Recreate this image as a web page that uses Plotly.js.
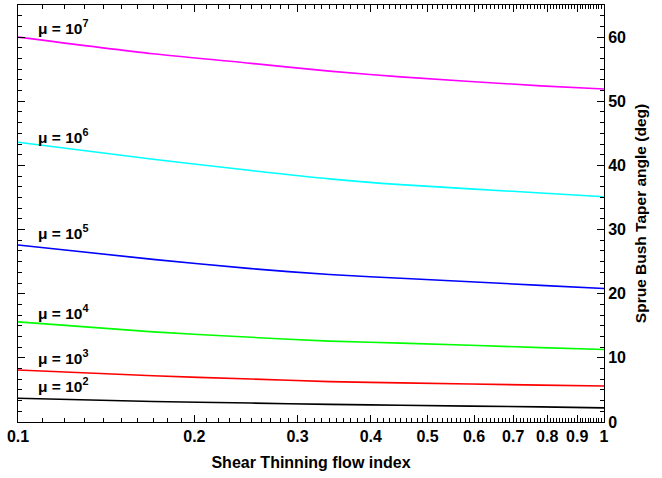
<!DOCTYPE html>
<html>
<head>
<meta charset="utf-8">
<script src="https://cdn.plot.ly/plotly-3.0.1.min.js"></script>
<style>
  html, body { margin: 0; padding: 0; background: #fff; }
  #chart { width: 662px; height: 478px; }
</style>
</head>
<body>
<div id="chart"></div>
<script>
// Data
const flowIndex = [0.1, 0.17, 0.25, 0.34, 0.45, 0.78, 1.0];
const mu1e7 = [60.0, 57.4, 55.9, 54.7, 53.8, 52.4, 51.9];
const mu1e6 = [43.6, 40.95, 39.2, 37.9, 37.0, 35.7, 35.1];
const mu1e5 = [27.6, 25.35, 23.9, 23.0, 22.4, 21.3, 20.8];
const mu1e4 = [15.6, 14.05, 13.2, 12.6, 12.3, 11.6, 11.3];
const mu1e3 = [8.1, 7.2, 6.7, 6.3, 6.1, 5.75, 5.6];
const mu1e2 = [3.7, 3.2, 2.95, 2.75, 2.6, 2.35, 2.2];

const seriesLabels = ['μ = 10<sup>7</sup>', 'μ = 10<sup>6</sup>', 'μ = 10<sup>5</sup>',
                      'μ = 10<sup>4</sup>', 'μ = 10<sup>3</sup>', 'μ = 10<sup>2</sup>'];
const xTickVals = [0.1, 0.2, 0.3, 0.4, 0.5, 0.6, 0.7, 0.8, 0.9, 1];
const xTickText = ['0.1', '0.2', '0.3', '0.4', '0.5', '0.6', '0.7', '0.8', '0.9', '1'];
const yTickVals = [0, 10, 20, 30, 40, 50, 60];

// styles / positions
const colors = ['#ff00ff', '#00ffff', '#0000ff', '#00ff00', '#ff0000', '#000000'];
const labelY = [61.6, 44.6, 29.6, 17.2, 10.1, 5.7];
const labelX = 0.1075;

const allSeries = [mu1e7, mu1e6, mu1e5, mu1e4, mu1e3, mu1e2];

const traces = allSeries.map((ys, i) => ({
  x: flowIndex, y: ys, type: 'scatter', mode: 'lines',
  line: { color: colors[i], width: 1.6, shape: 'spline', smoothing: 0.8 },
  hoverinfo: 'skip', showlegend: false
}));
// hidden copies so the overlay tick axes get drawn
[['x2', 'y'], ['x3', 'y2']].forEach(([xa, ya]) => traces.push({
  x: flowIndex, y: mu1e2, xaxis: xa, yaxis: ya, type: 'scatter', mode: 'lines',
  line: { color: 'rgba(0,0,0,0)', width: 0.1 }, hoverinfo: 'skip', showlegend: false
}));

// minor tick positions: every 0.01 between the majors
const xMinor = [];
for (let k = 11; k < 100; k++) {
  if (k % 10 !== 0) xMinor.push(k / 100);
}

const fontTick = { family: 'Liberation Sans, Arial, sans-serif', size: 16, color: '#000', weight: 'bold' };
const fontTitleX = { family: 'Liberation Sans, Arial, sans-serif', size: 16, color: '#000', weight: 'bold' };
const fontTitleY = { family: 'Liberation Sans, Arial, sans-serif', size: 15.5, color: '#000', weight: 'bold' };
const fontLabel = { family: 'Liberation Sans, Arial, sans-serif', size: 15.5, color: '#000', weight: 'bold' };

const annotations = seriesLabels.map((t, i) => ({
  x: Math.log10(labelX), y: labelY[i], xref: 'x', yref: 'y',
  text: t, showarrow: false, xanchor: 'left', yanchor: 'middle',
  font: fontLabel
}));

const tickCommon = { ticks: 'inside', tickwidth: 1, tickcolor: '#000', showgrid: false, zeroline: false };

const layout = {
  width: 662, height: 478,
  margin: { l: 18, r: 58, t: 5, b: 56 },
  paper_bgcolor: '#fff', plot_bgcolor: '#fff',
  showlegend: false,
  font: fontTick,
  xaxis: Object.assign({}, tickCommon, {
    type: 'log', range: [-1, 0],
    tickmode: 'array', tickvals: xTickVals, ticktext: xTickText, ticklen: 7,
    showline: true, linecolor: '#000', linewidth: 1, mirror: 'ticks',
    tickfont: fontTick,
    title: { text: 'Shear Thinning flow index', font: fontTitleX, standoff: 12 }
  }),
  xaxis2: Object.assign({}, tickCommon, {
    type: 'log', range: [-1, 0], overlaying: 'x', anchor: 'y', side: 'bottom',
    tickmode: 'array', tickvals: xMinor, showticklabels: false, ticklen: 4,
    showline: false, mirror: 'ticks'
  }),
  xaxis3: Object.assign({}, tickCommon, {
    type: 'log', range: [-1, 0], overlaying: 'x', anchor: 'y', side: 'bottom',
    tickmode: 'array', tickvals: xTickVals, showticklabels: false, ticklen: 7,
    showline: false, mirror: 'ticks'
  }),
  yaxis: Object.assign({}, tickCommon, {
    side: 'right', range: [0, 65],
    tickmode: 'array', tickvals: yTickVals, ticklen: 7,
    showline: true, linecolor: '#000', linewidth: 1, mirror: 'ticks',
    tickfont: fontTick,
    minor: { dtick: 10 / 6, tick0: 0, ticks: 'inside', ticklen: 4, tickwidth: 1, tickcolor: '#000', showgrid: false },
    title: { text: 'Sprue Bush Taper angle (deg)', font: fontTitleY, standoff: 10 }
  }),
  yaxis2: Object.assign({}, tickCommon, {
    range: [0, 65], overlaying: 'y', anchor: 'x', side: 'right',
    tickmode: 'array', tickvals: yTickVals, showticklabels: false, ticklen: 7,
    showline: false, mirror: 'ticks'
  }),
  annotations: annotations
};

Plotly.newPlot('chart', traces, layout, { staticPlot: true, displayModeBar: false });
</script>
</body>
</html>
